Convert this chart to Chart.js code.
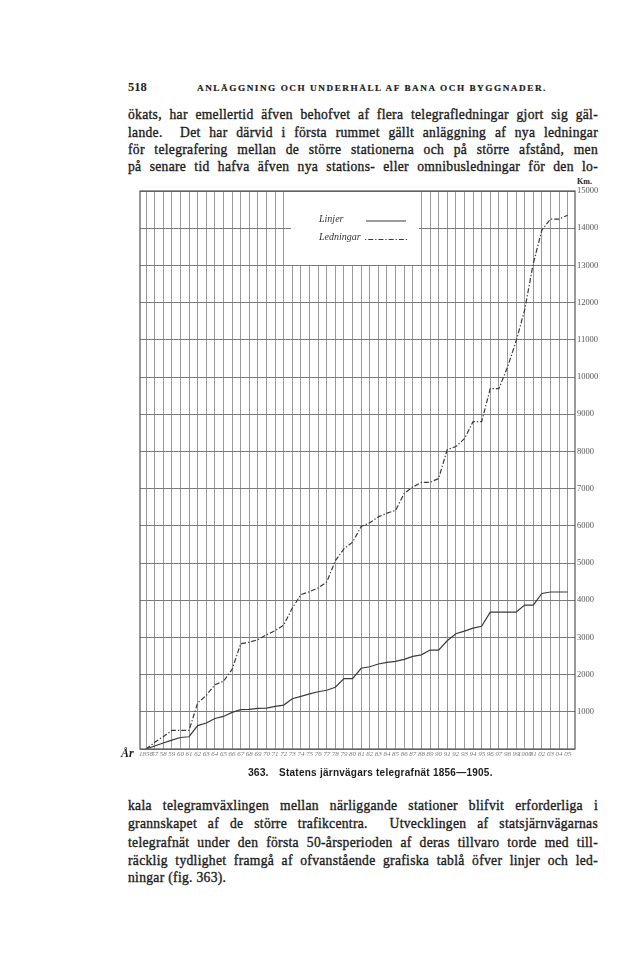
<!DOCTYPE html>
<html><head><meta charset="utf-8">
<script src="https://cdn.jsdelivr.net/npm/chart.js@4"></script>
<style>
html,body{margin:0;padding:0;background:#fff;}
body{width:640px;height:968px;position:relative;overflow:hidden;font-family:"Liberation Serif",serif;color:#1c1c1c;}
.t{position:absolute;left:128px;width:470px;font-size:13.6px;line-height:18px;height:18px;letter-spacing:0.3px;text-align:justify;text-align-last:justify;-webkit-text-stroke:0.35px #1c1c1c;}
.last{text-align-last:left;}
#pg{position:absolute;left:128px;top:80px;font-size:12.5px;font-weight:bold;line-height:14px;}
#hd{position:absolute;left:197px;top:82px;font-size:9.2px;font-weight:bold;line-height:12px;letter-spacing:1.55px;-webkit-text-stroke:0.2px #1c1c1c;}
#cap1{position:absolute;left:248px;top:766px;font-family:"Liberation Sans",sans-serif;font-weight:bold;font-size:10.5px;line-height:13px;white-space:nowrap;}
#cap2{position:absolute;left:279px;top:766px;font-family:"Liberation Sans",sans-serif;font-weight:bold;font-size:10px;line-height:13px;white-space:nowrap;letter-spacing:0.25px;}
#ar{position:absolute;left:121px;top:746px;font-size:12px;font-style:italic;font-weight:bold;line-height:14px;}
#km{position:absolute;left:577px;top:177px;font-size:8px;font-weight:bold;line-height:10px;}
#wrap{position:absolute;left:0;top:175px;width:640px;height:600px;}
</style>
</head><body>
<div id="pg">518</div>
<div id="hd">ANLÄGGNING OCH UNDERHÅLL AF BANA OCH BYGGNADER.</div>
<div class="t" style="top:106px">ökats, har emellertid äfven behofvet af flera telegrafledningar gjort sig gäl-</div>
<div class="t" style="top:123.7px">lande.&nbsp; Det har därvid i första rummet gällt anläggning af nya ledningar</div>
<div class="t" style="top:141px">för telegrafering mellan de större stationerna och på större afstånd, men</div>
<div class="t" style="top:158.3px">på senare tid hafva äfven nya stations- eller omnibusledningar för den lo-</div>
<div id="km">Km.</div>
<div id="wrap"><canvas id="c"></canvas></div>
<div id="ar">År</div>
<div id="cap1">363.</div>
<div id="cap2">Statens järnvägars telegrafnät 1856—1905.</div>
<div class="t" style="top:797px">kala telegramväxlingen mellan närliggande stationer blifvit erforderliga i</div>
<div class="t" style="top:815.3px">grannskapet af de större trafikcentra.&nbsp; Utvecklingen af statsjärnvägarnas</div>
<div class="t" style="top:833.7px">telegrafnät under den första 50-årsperioden af deras tillvaro torde med till-</div>
<div class="t" style="top:852px">räcklig tydlighet framgå af ofvanstående grafiska tablå öfver linjer och led-</div>
<div class="t last" style="top:869.3px">ningar (fig. 363).</div>
<script>
const years = [1856,1857,1858,1859,1860,1861,1862,1863,1864,1865,1866,1867,1868,1869,1870,1871,1872,1873,1874,1875,1876,1877,1878,1879,1880,1881,1882,1883,1884,1885,1886,1887,1888,1889,1890,1891,1892,1893,1894,1895,1896,1897,1898,1899,1900,1901,1902,1903,1904,1905];
const yearLabels = ['1856','57','58','59','60','61','62','63','64','65','66','67','68','69','70','71','72','73','74','75','76','77','78','79','80','81','82','83','84','85','86','87','88','89','90','91','92','93','94','95','96','97','98','99','1900','01','02','03','04','05'];
// Linjer (km), solid line
const linjer = [0,80,160,240,310,330,630,700,820,875,985,1060,1065,1090,1100,1145,1180,1350,1415,1480,1540,1580,1660,1890,1890,2170,2210,2285,2330,2355,2410,2490,2530,2660,2660,2910,3100,3170,3250,3300,3680,3680,3680,3680,3870,3870,4180,4220,4220,4220];
// Ledningar (km), dash-dot line
const ledningar = [0,180,330,500,500,500,1240,1440,1730,1820,2140,2830,2870,2940,3070,3180,3330,3790,4150,4230,4330,4490,5060,5380,5560,5980,6080,6240,6340,6415,6870,7040,7168,7168,7270,8046,8130,8340,8800,8800,9686,9686,10260,10960,11800,13050,13950,14246,14246,14350];
const yTickValues = [0,1000,2000,3000,4000,5000,6000,7000,8000,9000,10000,11000,12000,13000,14000,15000];
const legendLabels = ['Linjer','Ledningar'];

const dashDot = [5,2,1.3,2];
const lineColor = '#3a3a3a';

const legendBox = {
  id: 'legendBox',
  beforeDatasetsDraw(chart) {
    const {ctx, scales:{x, y}} = chart;
    const l = x.getPixelForValue(1872.85), r = x.getPixelForValue(1887.7);
    const t = y.getPixelForValue(15000), b = y.getPixelForValue(13000);
    ctx.save();
    ctx.fillStyle = '#fff';
    ctx.fillRect(l, t + 1, r - l, b - t - 1.5);
    ctx.fillStyle = '#333';
    ctx.font = 'italic 10px "Liberation Serif", serif';
    ctx.textBaseline = 'middle';
    ctx.fillText(legendLabels[0], l + 28, t + 28);
    ctx.fillText(legendLabels[1], l + 28, t + 46);
    ctx.strokeStyle = lineColor;
    ctx.lineWidth = 1.1;
    ctx.beginPath(); ctx.moveTo(l + 75, t + 30); ctx.lineTo(l + 115, t + 30); ctx.stroke();
    ctx.setLineDash([1.2, 2, 5, 2]);
    ctx.beginPath(); ctx.moveTo(l + 74, t + 48.5); ctx.lineTo(l + 116, t + 48.5); ctx.stroke();
    ctx.restore();
  },
  afterDatasetsDraw(chart) {
    const {ctx, chartArea:a} = chart;
    ctx.save();
    ctx.strokeStyle = '#555';
    ctx.lineWidth = 1.2;
    ctx.strokeRect(a.left, a.top, a.right - a.left, a.bottom - a.top);
    ctx.restore();
  }
};

new Chart(document.getElementById('c'), {
  type: 'line',
  data: {
    datasets: [
      {label: legendLabels[0], data: years.map((yr, i) => ({x: yr, y: linjer[i]})), borderColor: lineColor, borderWidth: 1.2, pointRadius: 0, tension: 0, fill: false},
      {label: legendLabels[1], data: years.map((yr, i) => ({x: yr, y: ledningar[i]})), borderColor: lineColor, borderWidth: 1.2, borderDash: dashDot, pointRadius: 0, tension: 0, fill: false}
    ]
  },
  options: {
    responsive: true,
    maintainAspectRatio: false,
    animation: false,
    layout: {autoPadding: false, padding: {left: 140, right: 35, top: 16, bottom: 14}},
    plugins: {legend: {display: false}, tooltip: {enabled: false}},
    scales: {
      x: {
        type: 'linear', min: 1855.3, max: 1905.85,
        afterFit(s) { s.height = 12; },
        border: {display: false},
        grid: {color: '#999', lineWidth: 1, drawTicks: false},
        ticks: {
          stepSize: 1, includeBounds: false, autoSkip: false, maxRotation: 0, minRotation: 0, padding: 1,
          color: '#777', font: {family: '"Liberation Serif", serif', style: 'italic', size: 7},
          callback: (v) => { const i = years.indexOf(v); return i >= 0 ? yearLabels[i] : ''; }
        }
      },
      y: {
        position: 'right', min: 0, max: 15000,
        afterFit(s) { s.width = 30; },
        afterBuildTicks(s) { s.ticks = yTickValues.map(v => ({value: v})); },
        border: {display: false},
        grid: {color: '#7a7a7a', lineWidth: 1, drawTicks: false},
        ticks: {
          padding: 2, color: '#555',
          font: {family: '"Liberation Serif", serif', size: 8.5},
          callback: (v) => v === 0 ? '' : String(v)
        }
      }
    }
  },
  plugins: [legendBox]
});
</script>
</body></html>
